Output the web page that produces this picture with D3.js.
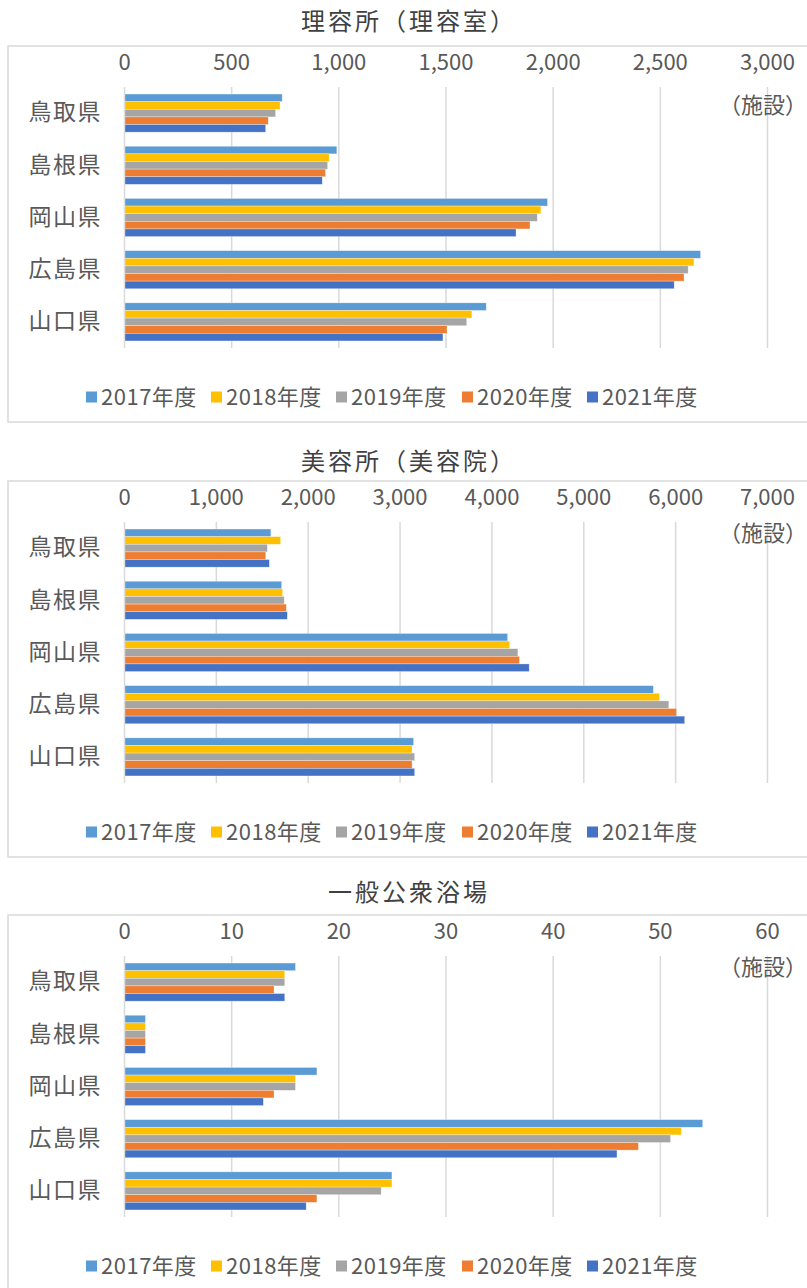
<!DOCTYPE html>
<html lang="ja">
<head>
<meta charset="utf-8">
<script src="https://cdn.jsdelivr.net/npm/d3@7/dist/d3.min.js"></script>
<style>
  html, body { margin: 0; padding: 0; background: #fff; }
  svg { display: block; font-family: "Noto Sans CJK JP", "Noto Sans", sans-serif; }
</style>
</head>
<body>
<div id="root"></div>
<script>
"use strict";

// prefectures and fiscal years
const prefectures = ["鳥取県", "島根県", "岡山県", "広島県", "山口県"];
const years = ["2017年度", "2018年度", "2019年度", "2020年度", "2021年度"];

// 理容所 (one row per year, prefectures in order)
const barberValues = [
  [738, 993, 1976, 2690, 1690],
  [728, 957, 1945, 2659, 1623],
  [707, 950, 1928, 2632, 1599],
  [673, 940, 1894, 2613, 1507],
  [661, 925, 1829, 2567, 1488],
];
const barberTicks = [0, 500, 1000, 1500, 2000, 2500, 3000];

// 美容所
const beautyValues = [
  [1599, 1716, 4176, 5763, 3153],
  [1705, 1727, 4198, 5830, 3136],
  [1560, 1744, 4288, 5931, 3164],
  [1543, 1767, 4305, 6015, 3136],
  [1582, 1778, 4411, 6104, 3164],
];
const beautyTicks = [0, 1000, 2000, 3000, 4000, 5000, 6000, 7000];

// 一般公衆浴場
const bathValues = [
  [16, 2, 18, 54, 25],
  [15, 2, 16, 52, 25],
  [15, 2, 16, 51, 24],
  [14, 2, 14, 48, 18],
  [15, 2, 13, 46, 17],
];
const bathTicks = [0, 10, 20, 30, 40, 50, 60];

const titles = ["理容所（理容室）", "美容所（美容院）", "一般公衆浴場"];
const unitLabel = "（施設）";

const colors = ["#5B9BD5", "#FFC000", "#A5A5A5", "#ED7D31", "#4472C4"];
const gridColor = "#D9D9D9";
const textColor = "#595959";

const width = 807;
const height = 1288;

const panels = [
  { title: titles[0], values: barberValues, ticks: barberTicks, top: 46, titleY: 22, unitY: 105 },
  { title: titles[1], values: beautyValues, ticks: beautyTicks, top: 481, titleY: 462, unitY: 533 },
  { title: titles[2], values: bathValues, ticks: bathTicks, top: 915, titleY: 893, unitY: 967 },
];

const plotLeft = 124;
const plotRight = 767;
const legendX = [86, 211, 336, 462, 587];

const svg = d3.select("#root")
  .append("svg")
  .attr("width", width)
  .attr("height", height);

panels.forEach((p) => {
  const gridTop = p.top + 41;
  const gridBottom = p.top + 302;

  const g = svg.append("g");

  g.append("rect")
    .attr("x", 8)
    .attr("y", p.top)
    .attr("width", 806)
    .attr("height", 376)
    .attr("fill", "#fff")
    .attr("stroke", gridColor)
    .attr("stroke-width", 1.5);

  g.append("text")
    .attr("x", 409)
    .attr("y", p.titleY)
    .attr("dy", "0.35em")
    .attr("text-anchor", "middle")
    .attr("fill", "#404040")
    .style("font-size", "24px")
    .style("letter-spacing", "3px")
    .text(p.title);

  const x = d3.scaleLinear()
    .domain([p.ticks[0], p.ticks[p.ticks.length - 1]])
    .range([plotLeft, plotRight]);

  const y0 = d3.scaleBand()
    .domain(prefectures)
    .range([gridTop, gridBottom])
    .paddingInner(0.27)
    .paddingOuter(0.135);

  const y1 = d3.scaleBand()
    .domain(years)
    .range([0, y0.bandwidth()]);

  // grid + tick labels
  const xAxis = g.append("g")
    .attr("transform", `translate(0, ${gridTop})`)
    .call(d3.axisTop(x)
      .tickValues(p.ticks)
      .tickFormat(d3.format(","))
      .tickSize(-(gridBottom - gridTop))
      .tickPadding(17));
  xAxis.select(".domain").remove();
  xAxis.selectAll(".tick line").attr("stroke", gridColor).attr("stroke-width", 1.5);
  xAxis.selectAll(".tick text")
    .attr("fill", textColor)
    .style("font-size", "22px")
    .style("font-family", "\"Noto Sans CJK JP\", sans-serif");

  // category labels
  const yAxis = g.append("g")
    .attr("transform", `translate(${plotLeft}, 0)`)
    .call(d3.axisLeft(y0).tickSize(0).tickPadding(22));
  yAxis.select(".domain").remove();
  yAxis.selectAll(".tick text")
    .attr("fill", textColor)
    .style("font-size", "23px")
    .style("letter-spacing", "1.5px")
    .style("font-family", "\"Noto Sans CJK JP\", sans-serif");

  // bars
  const rows = prefectures.flatMap((pref, i) =>
    years.map((yr, j) => ({ pref, yr, j, value: p.values[j][i] })));

  g.append("g")
    .selectAll("rect")
    .data(rows)
    .enter()
    .append("rect")
    .attr("x", x(0) + 1)
    .attr("y", (d) => y0(d.pref) + y1(d.yr))
    .attr("width", (d) => x(d.value) - x(0) - 1)
    .attr("height", y1.bandwidth())
    .attr("fill", (d) => colors[d.j])
    .attr("stroke", "#fff")
    .attr("stroke-opacity", 0.5)
    .attr("stroke-width", 0.6);

  // unit label
  g.append("text")
    .attr("x", 763)
    .attr("y", p.unitY)
    .attr("dy", "0.35em")
    .attr("text-anchor", "middle")
    .attr("fill", textColor)
    .style("font-size", "22px")
    .text(unitLabel);

  // legend
  const legend = g.append("g")
    .attr("transform", `translate(0, ${p.top + 351})`);
  const items = legend.selectAll("g")
    .data(years)
    .enter()
    .append("g")
    .attr("transform", (d, i) => `translate(${legendX[i]}, 0)`);
  items.append("rect")
    .attr("x", 0)
    .attr("y", -5.5)
    .attr("width", 11)
    .attr("height", 11)
    .attr("fill", (d, i) => colors[i]);
  items.append("text")
    .attr("x", 15)
    .attr("dy", "0.35em")
    .attr("fill", textColor)
    .style("font-size", "22px")
    .style("letter-spacing", "0.5px")
    .text((d) => d);
});
</script>
</body>
</html>
